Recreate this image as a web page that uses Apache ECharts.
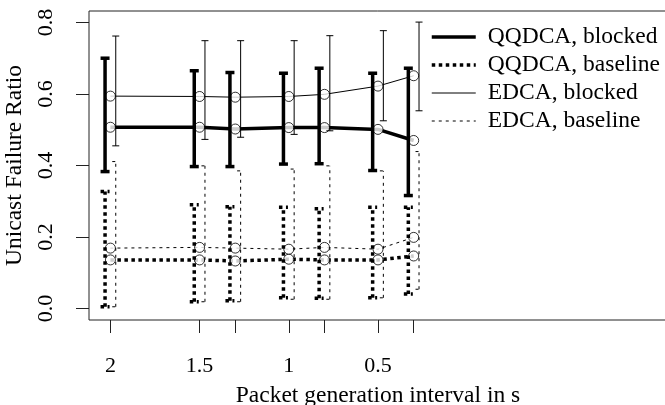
<!DOCTYPE html>
<html>
<head>
<meta charset="utf-8">
<script src="https://cdn.jsdelivr.net/npm/echarts@6/dist/echarts.min.js"></script>
<style>
  html, body { margin: 0; padding: 0; background: #fff; }
  #chart { width: 665px; height: 405px; }
</style>
</head>
<body>
<div id="chart"></div>
<script>
// packet generation interval (s), x axis is reversed
var intervals = [2, 1.5, 1.3, 1, 0.8, 0.5, 0.3];
var xTicks = [2, 1.5, 1.3, 1, 0.8, 0.5, 0.3];
var xLabels = [2, 1.5, 1, 0.5];
var yTicks = [0, 0.2, 0.4, 0.6, 0.8];

var qqBlockedMean = [0.507, 0.507, 0.502, 0.506, 0.506, 0.501, 0.470];
var qqBlockedLow  = [0.383, 0.397, 0.397, 0.404, 0.405, 0.386, 0.316];
var qqBlockedHigh = [0.700, 0.665, 0.660, 0.658, 0.672, 0.658, 0.672];

var qqBaseMean = [0.136, 0.136, 0.133, 0.138, 0.136, 0.136, 0.147];
var qqBaseLow  = [0.005, 0.019, 0.022, 0.030, 0.029, 0.030, 0.041];
var qqBaseHigh = [0.327, 0.290, 0.285, 0.283, 0.279, 0.283, 0.283];

var edBlockedMean = [0.594, 0.593, 0.591, 0.593, 0.599, 0.622, 0.651];
var edBlockedLow  = [0.455, 0.473, 0.479, 0.487, 0.497, 0.525, 0.553];
var edBlockedHigh = [0.762, 0.749, 0.749, 0.749, 0.763, 0.777, 0.801];

var edBaseMean = [0.169, 0.171, 0.169, 0.166, 0.171, 0.166, 0.199];
var edBaseLow  = [0.005, 0.019, 0.019, 0.026, 0.026, 0.030, 0.054];
var edBaseHigh = [0.411, 0.399, 0.385, 0.390, 0.399, 0.385, 0.439];

var FONT = 'Liberation Serif';
var SHIFT = 0.03; // error bars are moved a little left/right of the point

function pts(mean) {
  return intervals.map(function (x, i) { return [x, mean[i]]; });
}
function bars(low, high, dx) {
  return intervals.map(function (x, i) { return [x + dx, low[i], high[i]]; });
}

function errorBar(name, low, high, dx, width, dash, cap) {
  return {
    name: name + ' err',
    type: 'custom',
    z: 5,
    silent: true,
    data: bars(low, high, dx),
    renderItem: function (params, api) {
      var lo = api.coord([api.value(0), api.value(1)]);
      var hi = api.coord([api.value(0), api.value(2)]);
      var st = { stroke: '#000', lineWidth: width, lineDash: dash, fill: null };
      return {
        type: 'group',
        children: [
          { type: 'line', shape: { x1: lo[0], y1: lo[1], x2: hi[0], y2: hi[1] }, style: st },
          { type: 'line', shape: { x1: hi[0] - cap, y1: hi[1], x2: hi[0] + cap, y2: hi[1] }, style: st },
          { type: 'line', shape: { x1: lo[0] - cap, y1: lo[1], x2: lo[0] + cap, y2: lo[1] }, style: st }
        ]
      };
    }
  };
}

function meanLine(name, mean, width, dash) {
  return {
    name: name,
    type: 'line',
    z: 2,
    data: pts(mean),
    showSymbol: false,
    symbol: 'none',
    lineStyle: { color: '#000', width: width, type: dash ? dash : 'solid' },
    itemStyle: { color: '#000' }
  };
}

function circles(name, mean) {
  return {
    name: name + ' pts',
    type: 'scatter',
    z: 3,
    data: pts(mean),
    symbol: 'circle',
    symbolSize: 10,
    itemStyle: { color: '#fff', borderColor: '#000', borderWidth: 1 }
  };
}

var thickDot = [3.5, 3.5];
var thinDash = [3, 4];

function legendItem(name, width, dash) {
  return { name: name, lineStyle: { width: width, type: dash ? dash : 'solid', color: '#000' } };
}

var myChart = echarts.init(document.getElementById('chart'), null, { renderer: 'canvas' });
var option = {
  animation: false,
  backgroundColor: '#fff',
  grid: {
    left: 89, top: 11, width: 578, height: 309,
    outerBoundsMode: 'none', containLabel: false,
    show: true, borderColor: '#222', borderWidth: 1, backgroundColor: 'transparent'
  },
  legend: {
    orient: 'vertical',
    left: 425, top: 20,
    itemWidth: 44, itemHeight: 14, itemGap: 4,
    data: [
      legendItem('QQDCA, blocked', 3.5, null),
      legendItem('QQDCA, baseline', 3.5, thickDot),
      legendItem('EDCA, blocked', 1, null),
      legendItem('EDCA, baseline', 1, thinDash)
    ],
    itemStyle: { color: 'transparent', borderWidth: 0, opacity: 0 },
    textStyle: { fontFamily: FONT, fontSize: 23.5, color: '#000', padding: [0, 0, 0, 7] }
  },
  xAxis: {
    type: 'value',
    inverse: true,
    min: -1.12, max: 2.12,
    name: 'Packet generation interval in s',
    nameLocation: 'middle',
    nameGap: 64,
    nameTextStyle: { fontFamily: FONT, fontSize: 23.5, color: '#000' },
    axisLine: { show: false, onZero: false },
    splitLine: { show: false },
    axisTick: { show: true, length: 13, customValues: xTicks, lineStyle: { color: '#222' } },
    axisLabel: { customValues: xLabels, margin: 35, fontFamily: FONT, fontSize: 22, color: '#000' }
  },
  yAxis: {
    type: 'value',
    min: -0.032, max: 0.832,
    name: 'Unicast Failure Ratio',
    nameLocation: 'middle',
    nameGap: 43,
    nameTextStyle: { fontFamily: FONT, fontSize: 23.5, color: '#000' },
    axisLine: { show: false, onZero: false },
    splitLine: { show: false },
    axisTick: { show: true, length: 13, customValues: yTicks, lineStyle: { color: '#222' } },
    axisLabel: {
      customValues: yTicks, rotate: 90, margin: 32,
      fontFamily: FONT, fontSize: 22, color: '#000',
      formatter: function (v) { return v.toFixed(1); }
    }
  },
  series: [
    meanLine('QQDCA, blocked', qqBlockedMean, 3.5, null),
    meanLine('QQDCA, baseline', qqBaseMean, 3.5, thickDot),
    meanLine('EDCA, blocked', edBlockedMean, 1, null),
    meanLine('EDCA, baseline', edBaseMean, 1, thinDash),
    circles('QQDCA, blocked', qqBlockedMean),
    circles('QQDCA, baseline', qqBaseMean),
    circles('EDCA, blocked', edBlockedMean),
    circles('EDCA, baseline', edBaseMean),
    errorBar('QQDCA, blocked', qqBlockedLow, qqBlockedHigh, SHIFT, 3.5, null, 4.5),
    errorBar('QQDCA, baseline', qqBaseLow, qqBaseHigh, SHIFT, 3.5, thickDot, 4.5),
    errorBar('EDCA, blocked', edBlockedLow, edBlockedHigh, -SHIFT, 1, null, 3.5),
    errorBar('EDCA, baseline', edBaseLow, edBaseHigh, -SHIFT, 1, thinDash, 3.5)
  ]
};
myChart.setOption(option);
</script>
</body>
</html>
